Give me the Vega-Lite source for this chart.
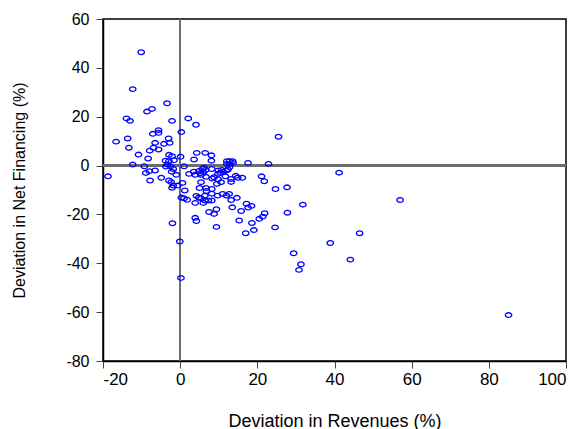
{
  "$schema": "https://vega.github.io/schema/vega-lite/v6.json",
  "width": 463,
  "height": 342,
  "autosize": {"type": "none"},
  "padding": {"left": 103, "top": 19, "right": 16, "bottom": 68},
  "background": "white",
  "config": {
    "font": "Liberation Sans",
    "view": {"stroke": "black", "strokeWidth": 1.5},
    "axis": {
      "grid": false,
      "domainColor": "black",
      "domainWidth": 1.5,
      "tickColor": "#444444",
      "tickSize": 7,
      "tickWidth": 1,
      "labelFont": "Liberation Sans",
      "labelFontSize": 16,
      "labelColor": "black",
      "labelExpr": "'' + datum.value",
      "titleFont": "Liberation Sans",
      "titleFontWeight": "normal",
      "titleColor": "black"
    }
  },
  "data": {
    "values": [
      {"rev": -10.1, "fin": 46.4}, {"rev": -12.3, "fin": 31.3}, {"rev": -3.4, "fin": 25.5}, {"rev": -7.3, "fin": 23.2},
      {"rev": -8.6, "fin": 22.1}, {"rev": -13.9, "fin": 19.3}, {"rev": -13.0, "fin": 18.3}, {"rev": -2.1, "fin": 18.3},
      {"rev": -5.6, "fin": 14.5}, {"rev": -5.6, "fin": 13.4}, {"rev": -7.1, "fin": 13.0}, {"rev": -13.6, "fin": 11.1},
      {"rev": -3.0, "fin": 11.1}, {"rev": -16.6, "fin": 9.8}, {"rev": -6.5, "fin": 9.3}, {"rev": -2.7, "fin": 9.3},
      {"rev": -4.2, "fin": 8.9}, {"rev": -13.3, "fin": 7.3}, {"rev": -6.9, "fin": 7.3}, {"rev": -5.6, "fin": 6.6},
      {"rev": -7.9, "fin": 6.1}, {"rev": -10.8, "fin": 4.5}, {"rev": -2.9, "fin": 4.4}, {"rev": -2.1, "fin": 3.8},
      {"rev": -8.3, "fin": 2.9}, {"rev": -3.8, "fin": 2.0}, {"rev": -2.9, "fin": 1.8}, {"rev": -1.6, "fin": 2.2},
      {"rev": -12.3, "fin": 0.4}, {"rev": -9.3, "fin": -0.3}, {"rev": -3.3, "fin": 0.4}, {"rev": -2.5, "fin": -0.3},
      {"rev": -3.7, "fin": -0.4}, {"rev": -1.8, "fin": -1.4}, {"rev": -6.5, "fin": -2.0}, {"rev": -8.0, "fin": -2.3},
      {"rev": -8.9, "fin": -3.0}, {"rev": -2.2, "fin": -2.5}, {"rev": -18.7, "fin": -4.4}, {"rev": -4.9, "fin": -5.0},
      {"rev": -1.0, "fin": -3.8}, {"rev": -7.8, "fin": -6.1}, {"rev": -2.9, "fin": -6.1}, {"rev": -2.3, "fin": -6.8},
      {"rev": -1.8, "fin": -8.2}, {"rev": -0.6, "fin": -8.2}, {"rev": -2.1, "fin": -9.1}, {"rev": -2.0, "fin": -23.6},
      {"rev": 0.3, "fin": 13.7}, {"rev": 0.1, "fin": 3.6}, {"rev": 1.0, "fin": -0.3}, {"rev": 0.6, "fin": -7.1},
      {"rev": 1.2, "fin": -10.2}, {"rev": 0.3, "fin": -13.1}, {"rev": 1.0, "fin": -13.4}, {"rev": 1.8, "fin": -14.0},
      {"rev": -0.1, "fin": -31.1}, {"rev": 0.2, "fin": -46.0},
      {"rev": 2.1, "fin": 19.3}, {"rev": 4.1, "fin": 16.7}, {"rev": 25.5, "fin": 11.8}, {"rev": 4.3, "fin": 5.2},
      {"rev": 6.5, "fin": 5.2}, {"rev": 8.1, "fin": 4.2}, {"rev": 3.6, "fin": 2.5}, {"rev": 8.1, "fin": 2.0},
      {"rev": 12.1, "fin": 1.8}, {"rev": 12.8, "fin": 1.8}, {"rev": 13.6, "fin": 1.8}, {"rev": 12.1, "fin": 0.7},
      {"rev": 12.8, "fin": 0.7}, {"rev": 13.7, "fin": 1.1}, {"rev": 17.6, "fin": 1.1}, {"rev": 22.9, "fin": 0.7},
      {"rev": 12.8, "fin": -0.6}, {"rev": 41.2, "fin": -2.9},
      {"rev": 2.3, "fin": -3.4}, {"rev": 3.5, "fin": -2.5}, {"rev": 3.9, "fin": -3.8}, {"rev": 4.9, "fin": -2.2},
      {"rev": 5.2, "fin": -3.1}, {"rev": 5.8, "fin": -1.4}, {"rev": 6.2, "fin": -0.9}, {"rev": 6.6, "fin": -1.8},
      {"rev": 6.0, "fin": -2.7}, {"rev": 6.7, "fin": -4.6}, {"rev": 5.4, "fin": -3.8}, {"rev": 8.2, "fin": -1.4},
      {"rev": 9.9, "fin": -2.0}, {"rev": 10.4, "fin": -3.0}, {"rev": 10.8, "fin": -1.8}, {"rev": 11.2, "fin": -2.6},
      {"rev": 11.9, "fin": -2.0}, {"rev": 12.4, "fin": -1.6}, {"rev": 9.8, "fin": -3.4}, {"rev": 8.8, "fin": -4.8},
      {"rev": 9.5, "fin": -7.5}, {"rev": 10.6, "fin": -6.8}, {"rev": 11.7, "fin": -4.4}, {"rev": 13.2, "fin": -5.5},
      {"rev": 13.2, "fin": -6.7}, {"rev": 14.4, "fin": -4.2}, {"rev": 14.9, "fin": -5.0}, {"rev": 16.1, "fin": -5.0},
      {"rev": 21.1, "fin": -4.4}, {"rev": 21.8, "fin": -6.4}, {"rev": 24.7, "fin": -9.6}, {"rev": 27.7, "fin": -8.9},
      {"rev": 8.3, "fin": -5.3}, {"rev": 9.8, "fin": -5.6}, {"rev": 5.4, "fin": -6.8},
      {"rev": 6.7, "fin": -9.2}, {"rev": 8.2, "fin": -9.6}, {"rev": 6.8, "fin": -10.4}, {"rev": 5.0, "fin": -9.2},
      {"rev": 8.2, "fin": -11.5}, {"rev": 6.4, "fin": -12.3}, {"rev": 4.2, "fin": -12.4}, {"rev": 4.8, "fin": -13.1},
      {"rev": 5.4, "fin": -13.4}, {"rev": 6.4, "fin": -14.3}, {"rev": 7.3, "fin": -14.3}, {"rev": 8.2, "fin": -14.3},
      {"rev": 9.7, "fin": -12.3}, {"rev": 11.0, "fin": -11.6}, {"rev": 12.0, "fin": -12.3}, {"rev": 12.7, "fin": -11.6},
      {"rev": 13.2, "fin": -14.1}, {"rev": 14.7, "fin": -13.2}, {"rev": 3.9, "fin": -15.3}, {"rev": 6.0, "fin": -15.3},
      {"rev": 7.5, "fin": -19.0}, {"rev": 8.8, "fin": -19.8}, {"rev": 9.4, "fin": -17.9}, {"rev": 13.5, "fin": -17.1},
      {"rev": 15.8, "fin": -18.6}, {"rev": 17.2, "fin": -15.6}, {"rev": 17.6, "fin": -17.2}, {"rev": 18.5, "fin": -16.5},
      {"rev": 15.3, "fin": -22.5}, {"rev": 18.6, "fin": -23.5}, {"rev": 20.5, "fin": -21.8}, {"rev": 21.4, "fin": -20.9},
      {"rev": 21.9, "fin": -19.5}, {"rev": 17.0, "fin": -27.7}, {"rev": 19.1, "fin": -26.4}, {"rev": 24.6, "fin": -25.3},
      {"rev": 27.8, "fin": -19.3}, {"rev": 31.8, "fin": -16.0}, {"rev": 9.4, "fin": -25.1}, {"rev": 3.9, "fin": -21.4},
      {"rev": 4.2, "fin": -22.7}, {"rev": 57.0, "fin": -14.1}, {"rev": 46.5, "fin": -27.7}, {"rev": 38.9, "fin": -31.7},
      {"rev": 29.4, "fin": -35.9}, {"rev": 44.1, "fin": -38.5}, {"rev": 31.3, "fin": -40.4}, {"rev": 30.8, "fin": -42.7},
      {"rev": 85.1, "fin": -61.2}
    ]
  },
  "layer": [
    {
      "mark": {"type": "rule", "color": "#6e6e6e", "strokeWidth": 1.6},
      "encoding": {"x": {"datum": 0, "type": "quantitative", "scale": {"domain": [-20, 100], "nice": false, "zero": false}}}
    },
    {
      "mark": {"type": "rule", "color": "#6e6e6e", "strokeWidth": 1.6},
      "encoding": {"y": {"datum": 0, "type": "quantitative", "scale": {"domain": [-80, 60], "nice": false, "zero": false}}}
    },
    {
      "mark": {"type": "point", "shape": "M -1 0 A 1 0.72 0 1 0 1 0 A 1 0.72 0 1 0 -1 0 Z", "filled": false, "color": "#0000ff", "size": 42, "strokeWidth": 1.3, "opacity": 1},
      "encoding": {
        "x": {
          "field": "rev", "type": "quantitative",
          "scale": {"domain": [-20, 100], "nice": false, "zero": false},
          "axis": {"values": [-20, 0, 20, 40, 60, 80, 100], "title": "Deviation in Revenues (%)", "labelFontSize": 17, "titleFontSize": 18, "labelPadding": 3, "titlePadding": 25}
        },
        "y": {
          "field": "fin", "type": "quantitative",
          "scale": {"domain": [-80, 60], "nice": false, "zero": false},
          "axis": {"values": [-80, -60, -40, -20, 0, 20, 40, 60], "title": "Deviation in Net Financing (%)", "labelFontSize": 16, "titleFontSize": 16, "labelPadding": 7, "titlePadding": 38}
        }
      }
    }
  ]
}
